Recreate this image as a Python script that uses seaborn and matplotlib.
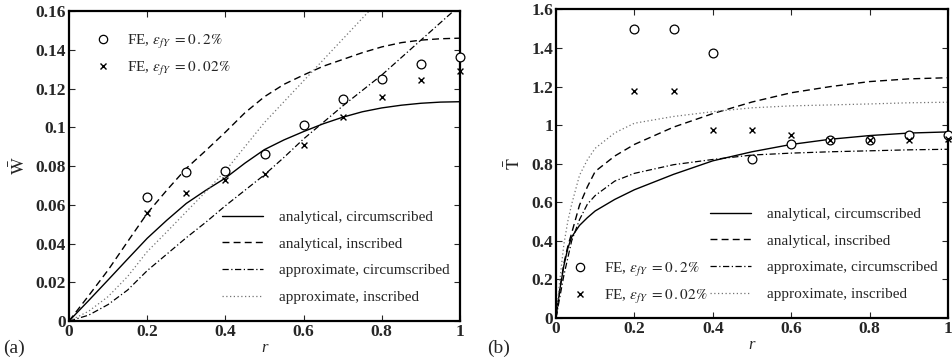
import numpy as np
import pandas as pd
import matplotlib
matplotlib.use("Agg")
import matplotlib.pyplot as plt
import seaborn as sns
from matplotlib.lines import Line2D

sns.set_theme(style="ticks")
plt.rcParams['font.family'] = ['Liberation Serif', 'DejaVu Serif']
plt.rcParams['mathtext.fontset'] = 'stix'

# ---------------- data: panel (a) W-bar ----------------
fe_r = [0.2, 0.3, 0.4, 0.5, 0.6, 0.7, 0.8, 0.9, 1.0]
W_fe_02 = [0.064, 0.077, 0.0775, 0.086, 0.101, 0.1144, 0.1247, 0.1326, 0.1364]
W_fe_002 = [0.0555, 0.066, 0.0728, 0.0757, 0.0907, 0.1051, 0.1158, 0.1242, 0.129]

W_r = [0.0, 0.05, 0.1, 0.15, 0.2, 0.25, 0.3, 0.35, 0.4, 0.45, 0.5, 0.55, 0.6,
       0.65, 0.7, 0.75, 0.8, 0.85, 0.9, 0.95, 1.0]
W_anal_circ = [0.0, 0.0105, 0.0212, 0.032, 0.0427, 0.052, 0.0607, 0.0675, 0.0738,
               0.0815, 0.0885, 0.0935, 0.0978, 0.1018, 0.1052, 0.108, 0.110,
               0.1114, 0.1124, 0.1130, 0.1132]
W_anal_insc = [0.0, 0.013, 0.0263, 0.041, 0.0556, 0.0675, 0.0788, 0.088, 0.0975,
               0.1075, 0.1158, 0.1222, 0.127, 0.1315, 0.135, 0.1385, 0.1415,
               0.1437, 0.145, 0.1457, 0.146]
W_appr_circ = [0.0, 0.003, 0.0085, 0.016, 0.026, 0.0345, 0.043, 0.051, 0.0595,
               0.0675, 0.0755, 0.0845, 0.094, 0.1025, 0.111, 0.119, 0.127,
               0.136, 0.145, 0.154, 0.163]
W_appr_insc_r = [0.0, 0.05, 0.1, 0.15, 0.2, 0.25, 0.3, 0.35, 0.4, 0.5, 0.6, 0.7, 0.8]
W_appr_insc = [0.0, 0.005, 0.0126, 0.023, 0.0358, 0.046, 0.0564, 0.0668, 0.0775,
               0.1025, 0.124, 0.1455, 0.167]

# ---------------- data: panel (b) T-bar ----------------
T_fe_02 = [1.5, 1.5, 1.376, 0.825, 0.901, 0.923, 0.923, 0.951, 0.951]
T_fe_002 = [1.177, 1.177, 0.975, 0.975, 0.951, 0.923, 0.923, 0.923, 0.93]

T_r = [0.0, 0.01, 0.02, 0.03, 0.04, 0.06, 0.08, 0.1, 0.15, 0.2, 0.3, 0.4, 0.5,
       0.6, 0.7, 0.8, 0.9, 1.0]
T_anal_circ = [0.0, 0.15, 0.27, 0.36, 0.42, 0.48, 0.52, 0.555, 0.615, 0.665,
               0.745, 0.815, 0.862, 0.9, 0.927, 0.946, 0.959, 0.965]
T_anal_insc = [0.0, 0.15, 0.28, 0.37, 0.44, 0.585, 0.68, 0.76, 0.84, 0.90, 0.99,
               1.06, 1.12, 1.168, 1.20, 1.226, 1.24, 1.246]
T_appr_circ = [0.0, 0.11, 0.22, 0.31, 0.40, 0.51, 0.59, 0.635, 0.71, 0.75, 0.795,
               0.822, 0.845, 0.855, 0.862, 0.867, 0.872, 0.875]
T_appr_insc = [0.0, 0.2, 0.38, 0.50, 0.59, 0.74, 0.82, 0.88, 0.96, 1.01, 1.045,
               1.07, 1.09, 1.10, 1.105, 1.11, 1.116, 1.119]

line_labels = ["analytical, circumscribed", "analytical, inscribed",
               "approximate, circumscribed", "approximate, inscribed"]
fe_labels = [r"FE, $\epsilon_{fY}\ = 0\,.2\%$", r"FE, $\epsilon_{fY}\ = 0\,.02\%$"]

styles = [
    dict(color="black", linestyle="-", linewidth=1.0),
    dict(color="black", linestyle=(0, (5, 3)), linewidth=1.0),
    dict(color="black", linestyle=(0, (5, 2, 1, 2)), linewidth=0.9),
    dict(color="0.45", linestyle=(0, (1, 2)), linewidth=0.9),
]

fig = plt.figure(figsize=(9.53, 3.6), dpi=100)
axA = fig.add_axes([0.0724, 0.1083, 0.4103, 0.861])
axB = fig.add_axes([0.5834, 0.1167, 0.4113, 0.857])


def draw(ax, curves, fe_a, fe_b):
    for (xs, ys), st in zip(curves, styles):
        sns.lineplot(x=xs, y=ys, ax=ax, estimator=None, sort=False, **st)
    sns.scatterplot(x=fe_r, y=fe_a, ax=ax, marker="o", s=40, facecolor="white",
                    edgecolor="black", linewidth=0.9, zorder=5, clip_on=False)
    sns.scatterplot(x=fe_r, y=fe_b, ax=ax, marker="x", s=18, color="black",
                    linewidth=1.0, zorder=5, clip_on=False)


draw(axA, [(W_r, W_anal_circ), (W_r, W_anal_insc), (W_r, W_appr_circ),
           (W_appr_insc_r, W_appr_insc)], W_fe_02, W_fe_002)
draw(axB, [(T_r, T_anal_circ), (T_r, T_anal_insc), (T_r, T_appr_circ),
           (T_r, T_appr_insc)], T_fe_02, T_fe_002)

axA.set_xlim(0, 1)
axA.set_ylim(0, 0.16)
axA.set_yticks([0, 0.02, 0.04, 0.06, 0.08, 0.1, 0.12, 0.14, 0.16])
axA.set_yticklabels(["0", "0.02", "0.04", "0.06", "0.08", "0.1", "0.12", "0.14", "0.16"])
axB.set_xlim(0, 1)
axB.set_ylim(0, 1.6)
axB.set_yticks([0, 0.2, 0.4, 0.6, 0.8, 1.0, 1.2, 1.4, 1.6])
axB.set_yticklabels(["0", "0.2", "0.4", "0.6", "0.8", "1", "1.2", "1.4", "1.6"])

for ax in (axA, axB):
    ax.set_xticks([0, 0.2, 0.4, 0.6, 0.8, 1.0])
    ax.set_xticklabels(["0", "0.2", "0.4", "0.6", "0.8", "1"])
    ax.tick_params(direction="in", top=True, right=True, length=4, width=0.8,
                   labelsize=12.5, pad=2)
    for lab in ax.get_xticklabels() + ax.get_yticklabels():
        lab.set_fontweight("bold")
    for sp in ax.spines.values():
        sp.set_linewidth(1.6)
        sp.set_color("black")
    ax.set_xlabel("r", fontstyle="italic", fontsize=12, labelpad=0)

axA.set_ylabel(r"$\bar{\mathrm{W}}$", fontsize=13, labelpad=5)
axB.set_ylabel(r"$\bar{\mathrm{T}}$", fontsize=13, labelpad=5)

line_handles = [Line2D([], [], **st) for st in styles]
fe_handles = [
    Line2D([], [], marker="o", linestyle="none", markerfacecolor="white",
           markeredgecolor="black", markersize=6, markeredgewidth=0.9),
    Line2D([], [], marker="x", linestyle="none", color="black",
           markersize=4.5, markeredgewidth=1.0),
]

legkw = dict(frameon=False, fontsize=11, handlelength=2.7, handletextpad=1.0,
             labelspacing=0.85, borderaxespad=0.3)
fekw = dict(frameon=False, fontsize=11, handletextpad=0.6, labelspacing=0.6,
            borderaxespad=0.3)

lA = axA.legend(line_handles, line_labels, loc="lower right",
                bbox_to_anchor=(1.0, 0.02), **legkw)
axA.add_artist(lA)
axA.legend(fe_handles, fe_labels, loc="upper left",
           bbox_to_anchor=(0.02, 0.965), **fekw)

lB = axB.legend(line_handles, line_labels, loc="lower right",
                bbox_to_anchor=(1.0, 0.02), **legkw)
axB.add_artist(lB)
axB.legend(fe_handles, fe_labels, loc="lower left",
           bbox_to_anchor=(-0.005, 0.005), **fekw)

fig.text(0.003, 0.02, "(a)", fontsize=14)
fig.text(0.511, 0.02, "(b)", fontsize=14)

fig.savefig("out.png", dpi=100)
